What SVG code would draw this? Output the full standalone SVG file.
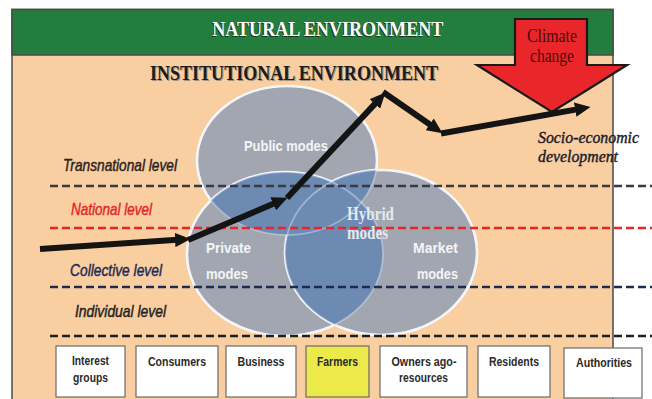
<svg xmlns="http://www.w3.org/2000/svg" width="652" height="399" viewBox="0 0 652 399">
<style>
.lvl{font-family:"Liberation Sans",Arial,sans-serif;font-style:italic;font-size:17px;stroke-width:0.45px}
.dash{fill:none;stroke-width:2.6;stroke-dasharray:8 4}
.ell{fill:#a1a6b1;stroke:#ffffff;stroke-width:2.5}
.ov{fill:#6c8ab2}
.ring{fill:none;stroke:#dfe8f5;stroke-opacity:0.45;stroke-width:1.8}
.mlab{font-family:"Liberation Sans",Arial,sans-serif;font-weight:bold;font-size:15.5px;fill:#f5f5f7}
.box{fill:#ffffff;stroke:#6a6a6a;stroke-width:1.2}
.btxt{font-family:"Liberation Sans",Arial,sans-serif;font-weight:bold;font-size:13.5px;fill:#2a2a2a;text-anchor:middle}
.arr{stroke:#141414;stroke-width:6;fill:none;marker-end:url(#ah)}
.ttl{font-family:"Liberation Serif","Times New Roman",serif;font-weight:bold}
.ser{font-family:"Liberation Serif","Times New Roman",serif}
</style>
<defs>
<marker id="ah" viewBox="0 0 13 12" refX="5" refY="6" markerWidth="2.6" markerHeight="2.4" orient="auto">
<path d="M0,0 L13,6 L0,12 z" fill="#141414"/>
</marker>
<clipPath id="cPub"><ellipse cx="287" cy="160.5" rx="90" ry="74.5"/></clipPath>
<clipPath id="cPri"><ellipse cx="285" cy="254" rx="98" ry="82"/></clipPath>
</defs>

<!-- frame and environments -->
<g id="frame">
<rect x="12" y="9.5" width="601" height="400" fill="#f9cfa1" stroke="#4a4a4a" stroke-width="1.5"/>
<rect x="12" y="9.5" width="601" height="45.5" fill="#237e3e" stroke="#4a4a4a" stroke-width="1.5"/>
<text class="ttl" x="327" y="37" font-size="20.5" text-anchor="middle" fill="#222" textLength="231" lengthAdjust="spacingAndGlyphs" opacity="0.85">NATURAL ENVIRONMENT</text>
<text class="ttl" x="327.8" y="36.2" font-size="20.5" text-anchor="middle" fill="#ffffff" textLength="231" lengthAdjust="spacingAndGlyphs">NATURAL ENVIRONMENT</text>
<text class="ttl" x="295" y="80.8" font-size="20.5" text-anchor="middle" fill="#7a7a7a" textLength="288" lengthAdjust="spacingAndGlyphs" opacity="0.7">INSTITUTIONAL ENVIRONMENT</text>
<text class="ttl" x="294" y="80" font-size="20.5" text-anchor="middle" fill="#1c1c1c" textLength="288" lengthAdjust="spacingAndGlyphs">INSTITUTIONAL ENVIRONMENT</text>
</g>

<!-- modes -->
<g id="public-modes"><ellipse class="ell" cx="287" cy="160.5" rx="90" ry="74.5"/></g>
<g id="private-modes"><ellipse class="ell" cx="285" cy="254" rx="98" ry="82"/></g>
<g id="market-modes"><ellipse class="ell" cx="381" cy="252.5" rx="96" ry="82.5"/></g>
<g id="hybrid-modes">
<ellipse class="ov" cx="285" cy="254" rx="98" ry="82" clip-path="url(#cPub)"/>
<ellipse class="ov" cx="381" cy="252.5" rx="96" ry="82.5" clip-path="url(#cPub)"/>
<ellipse class="ov" cx="381" cy="252.5" rx="96" ry="82.5" clip-path="url(#cPri)"/>
<ellipse class="ring" cx="287" cy="160.5" rx="90" ry="74.5"/>
<ellipse class="ring" cx="285" cy="254" rx="98" ry="82"/>
<ellipse class="ring" cx="381" cy="252.5" rx="96" ry="82.5"/>
</g>

<!-- levels -->
<g id="levels">
<line class="dash" x1="50" y1="186" x2="652" y2="186" stroke="#363b45"/>
<line class="dash" x1="50" y1="228" x2="652" y2="228" stroke="#e8262a"/>
<line class="dash" x1="50" y1="287" x2="652" y2="287" stroke="#1e2b52"/>
<line class="dash" x1="50" y1="336" x2="652" y2="336" stroke="#1e1e1e"/>
<text class="lvl" x="63" y="171" fill="#2b2220" stroke="#2b2220" textLength="114" lengthAdjust="spacingAndGlyphs">Transnational level</text>
<text class="lvl" x="71" y="214.5" fill="#e3262a" stroke="#e3262a" textLength="81" lengthAdjust="spacingAndGlyphs">National level</text>
<text class="lvl" x="70" y="275.5" fill="#1c2a55" stroke="#1c2a55" textLength="92" lengthAdjust="spacingAndGlyphs">Collective level</text>
<text class="lvl" x="75" y="317" fill="#222222" stroke="#222222" textLength="91" lengthAdjust="spacingAndGlyphs">Individual level</text>
</g>

<!-- mode labels -->
<g id="mode-labels">
<text class="mlab" x="244" y="151" textLength="84" lengthAdjust="spacingAndGlyphs">Public modes</text>
<text class="mlab" x="206" y="253" textLength="45" lengthAdjust="spacingAndGlyphs">Private</text>
<text class="mlab" x="206" y="278.5" textLength="42" lengthAdjust="spacingAndGlyphs">modes</text>
<text class="mlab" x="413" y="252.5" textLength="45" lengthAdjust="spacingAndGlyphs">Market</text>
<text class="mlab" x="417" y="278.5" textLength="41" lengthAdjust="spacingAndGlyphs">modes</text>
<text class="ttl" x="347" y="220" font-size="18" fill="#e6e9ef" textLength="47" lengthAdjust="spacingAndGlyphs">Hybrid</text>
<text class="ttl" x="347" y="238.5" font-size="18" fill="#e6e9ef" textLength="41" lengthAdjust="spacingAndGlyphs">modes</text>
</g>

<!-- climate change -->
<g id="climate-change">
<polygon points="515,19 587,19 587,65 627,65 552,112 477,65 515,65" fill="#e9262a" stroke="#1a1a1a" stroke-width="2.2" stroke-linejoin="miter"/>
<text class="ser" x="552" y="42" font-size="18" fill="#4a0d0d" text-anchor="middle" textLength="50" lengthAdjust="spacingAndGlyphs">Climate</text>
<text class="ser" x="552" y="62" font-size="18" fill="#4a0d0d" text-anchor="middle" textLength="44" lengthAdjust="spacingAndGlyphs">change</text>
</g>

<!-- development path -->
<g id="connectors">
<line class="arr" x1="40" y1="249" x2="181" y2="239.6"/>
<line class="arr" x1="188" y1="240" x2="278.7" y2="201.5"/>
<line class="arr" x1="287" y1="198" x2="378.9" y2="99.6"/>
<line class="arr" x1="383" y1="92" x2="434.6" y2="127.8"/>
<line class="arr" x1="441" y1="133.5" x2="581.1" y2="108.6"/>
</g>

<g id="socio-economic">
<text class="ser" x="538" y="143" font-style="italic" font-size="17" fill="#1a1a28" stroke="#1a1a28" stroke-width="0.4" textLength="101" lengthAdjust="spacingAndGlyphs">Socio-economic</text>
<text class="ser" x="538" y="162" font-style="italic" font-size="17" fill="#1a1a28" stroke="#1a1a28" stroke-width="0.4" textLength="80" lengthAdjust="spacingAndGlyphs">development</text>
</g>

<!-- actors -->
<g id="interest-groups"><rect class="box" x="56" y="346" width="69" height="51"/><text class="btxt" x="90.5" y="365" textLength="37" lengthAdjust="spacingAndGlyphs">Interest</text><text class="btxt" x="90.5" y="382" textLength="35" lengthAdjust="spacingAndGlyphs">groups</text></g>
<g id="consumers"><rect class="box" x="136" y="346" width="82" height="51"/><text class="btxt" x="177" y="366" textLength="58" lengthAdjust="spacingAndGlyphs">Consumers</text></g>
<g id="business"><rect class="box" x="226" y="346" width="70" height="51"/><text class="btxt" x="261" y="366" textLength="47" lengthAdjust="spacingAndGlyphs">Business</text></g>
<g id="farmers"><rect class="box" x="306" y="346" width="63" height="51" style="fill:#ece94a"/><text class="btxt" x="337.5" y="366" textLength="41" lengthAdjust="spacingAndGlyphs">Farmers</text></g>
<g id="owners"><rect class="box" x="380" y="346" width="87" height="51"/><text class="btxt" x="424" y="365.5" textLength="65" lengthAdjust="spacingAndGlyphs">Owners ago-</text><text class="btxt" x="423.5" y="382" textLength="49" lengthAdjust="spacingAndGlyphs">resources</text></g>
<g id="residents"><rect class="box" x="478" y="346" width="72" height="51"/><text class="btxt" x="514" y="366" textLength="50" lengthAdjust="spacingAndGlyphs">Residents</text></g>
<g id="authorities"><rect class="box" x="564" y="348" width="78" height="50"/><text class="btxt" x="604" y="367" textLength="56" lengthAdjust="spacingAndGlyphs">Authorities</text></g>
</svg>
